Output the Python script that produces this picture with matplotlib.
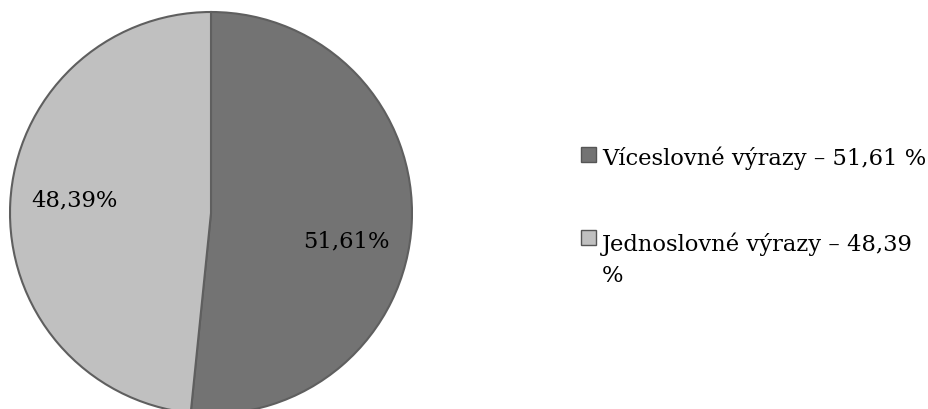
import matplotlib
matplotlib.use("Agg")
import matplotlib.pyplot as plt
from matplotlib.patches import Rectangle

labels = ["Víceslovné výrazy – 51,61 %", "Jednoslovné výrazy – 48,39\n%"]
values = [51.61, 48.39]
pct_labels = ["51,61%", "48,39%"]
colors = ["#737373", "#c0c0c0"]

plt.rcParams['font.family'] = ['DejaVu Serif']
W, H = 929, 410
fig = plt.figure(figsize=(W / 100, H / 100), dpi=100)
ax = fig.add_axes([0, 0, 1, 1])
ax.axis('off')

wedges, texts = ax.pie(values, colors=colors, startangle=90, counterclock=False,
                       center=(211, 196), radius=201,
                       wedgeprops=dict(edgecolor="#5f5f5f", linewidth=1.5))
ax.set_xlim(0, W)
ax.set_ylim(0, H)
ax.set_aspect('equal')

FS = 16.3
pct_pos = [(346, 163), (74, 204)]
for (x, y), t in zip(pct_pos, pct_labels):
    ax.text(x, y, t, ha='center', va='baseline', fontsize=FS, color='black')

# legend drawn manually
leg_y = [(247, 245), (164, 159)]  # (square bottom, first baseline)
for (sq_y, base), lab, c in zip(leg_y, labels, colors):
    ax.add_patch(Rectangle((581, sq_y), 15, 15, facecolor=c, edgecolor="#555555", linewidth=1))
    for i, line in enumerate(lab.split("\n")):
        ax.text(602, base - 31 * i, line, ha='left', va='baseline', fontsize=FS, color='black')

fig.savefig("out.png", dpi=100)
